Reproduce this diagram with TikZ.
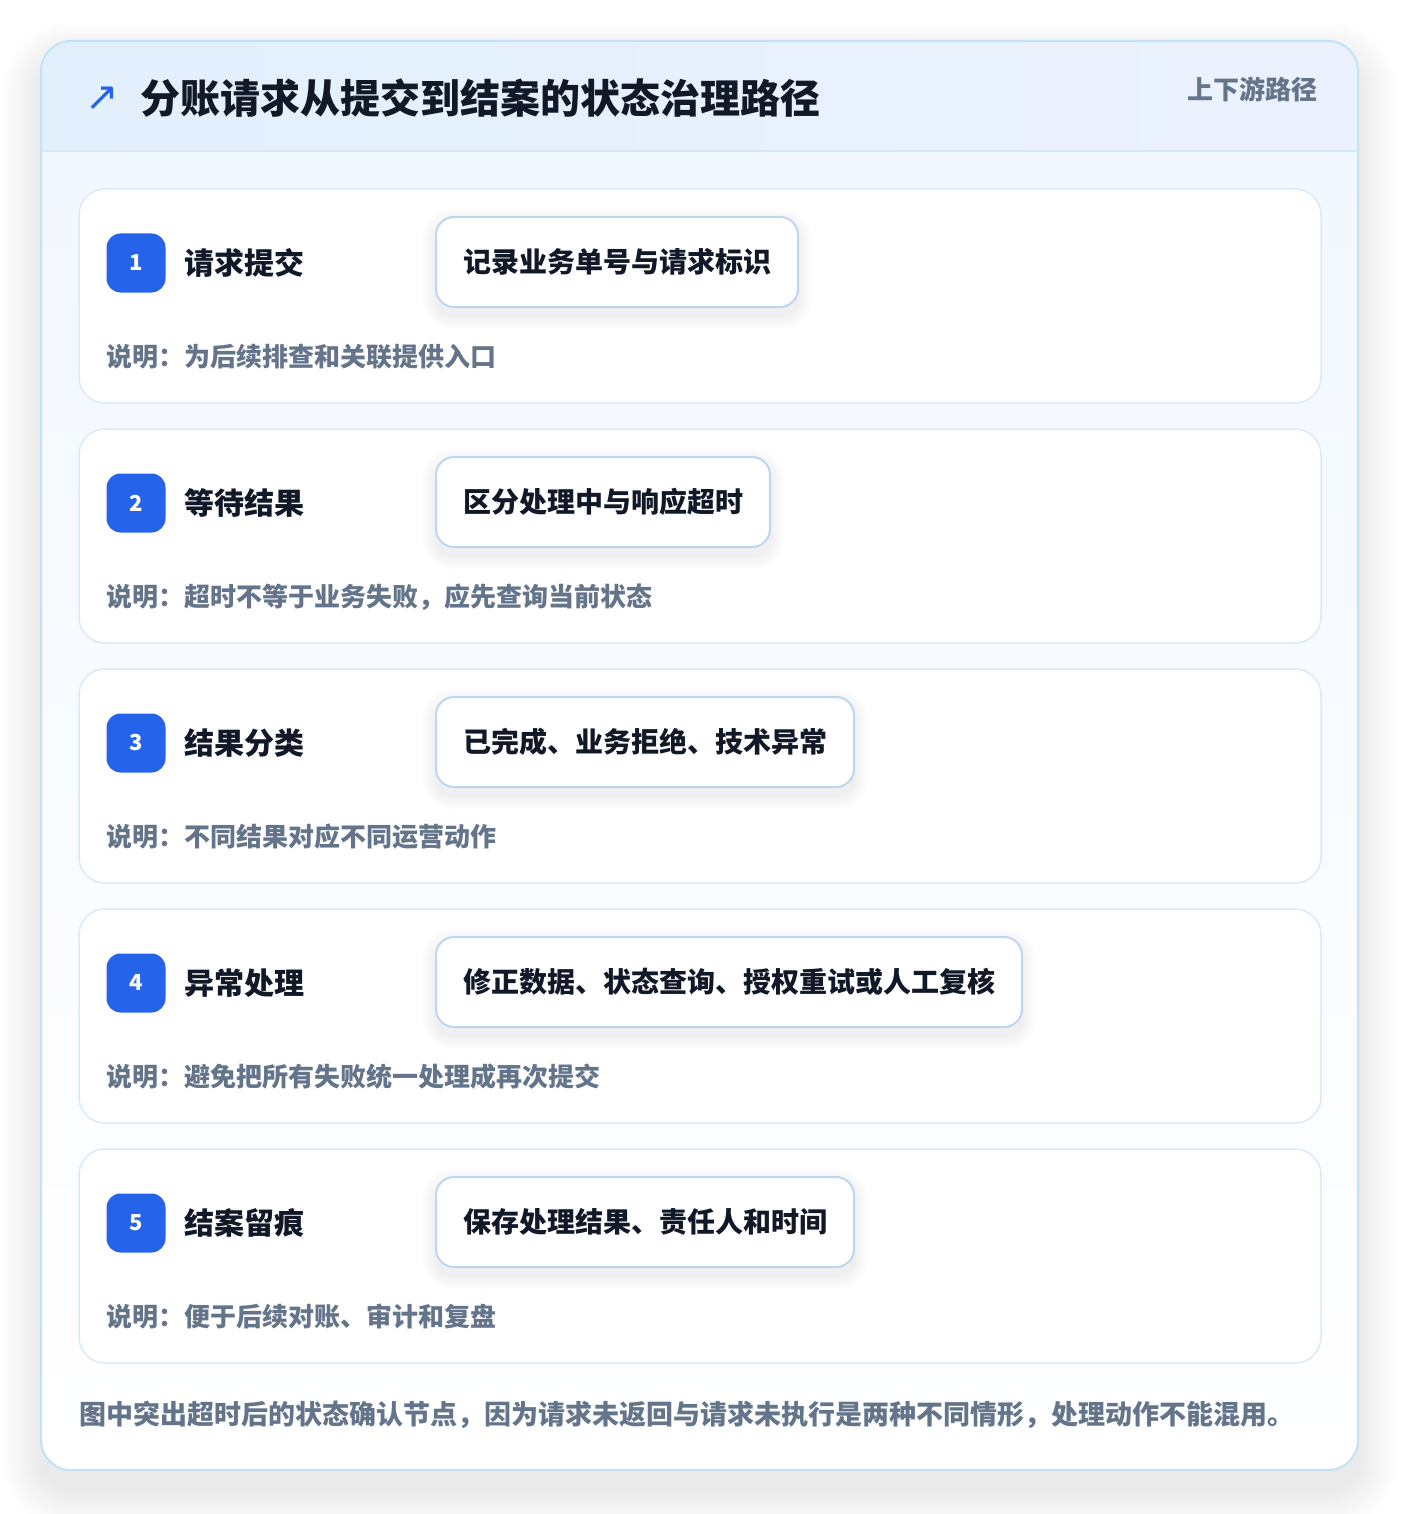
\documentclass[tikz,border=0pt]{standalone}
\usepackage{fontspec}
\setmainfont{Noto Sans CJK SC}
\newfontfamily\symfont{DejaVu Sans}
\usetikzlibrary{positioning}

\pgfdeclarelayer{cardlayer}
\pgfdeclarelayer{shadowlayer}
\pgfsetlayers{cardlayer,shadowlayer,main}

\definecolor{frameline}{HTML}{C3E2F6}
\definecolor{headleft}{HTML}{E2EFFD}
\definecolor{headright}{HTML}{ECF2FD}
\definecolor{headline}{HTML}{D5E6F8}
\definecolor{bodytop}{HTML}{F2F8FF}
\definecolor{cardline}{HTML}{DAEAF8}
\definecolor{boxline}{HTML}{BDD6F2}
\definecolor{badgeblue}{HTML}{2563EB}
\definecolor{ink}{HTML}{111827}
\definecolor{slate}{HTML}{64748B}

\tikzset{
  card/.style={draw=cardline, line width=1.5pt, fill=white, rounded corners=26pt, minimum width=1242pt, minimum height=214pt},
  badge/.style={fill=badgeblue, rounded corners=14pt, minimum size=59pt, inner sep=0pt, text=white, font=\fontsize{22}{22}\selectfont\bfseries},
  steptitle/.style={anchor=west, inner sep=0pt, text=ink, font=\fontsize{30}{36}\selectfont\bfseries},
  action/.style={anchor=west, draw=boxline, line width=2pt, fill=white, rounded corners=18pt, minimum height=90pt, inner xsep=27pt, text=ink, font=\fontsize{28}{34}\selectfont\bfseries},
  note/.style={anchor=west, inner sep=0pt, text=slate, font=\fontsize{26}{32}\selectfont\bfseries},
  haze/.style={fill=black, opacity=#1},
}

\begin{document}
\begin{tikzpicture}[x=1pt, y=-1pt]
  \useasboundingbox (0,0) rectangle (1400,1514);

  \begin{pgfonlayer}{cardlayer}
  \fill[white] (0,0) rectangle (1400,1514);

  % Frame
  \foreach \s in {0,2,...,40}
    \fill[haze=0.005, rounded corners=30+\s] (41-\s,61-\s) rectangle (1358+\s,1490+\s);
  \begin{scope}
    \clip[rounded corners=30pt] (41,41) rectangle (1358,1470);
    \shade[left color=headleft, right color=headright] (41,41) rectangle (1358,151);
    \shade[top color=bodytop, bottom color=white] (41,151) rectangle (1358,1470);
    \draw[headline, line width=1.5pt] (41,151) -- (1358,151);
  \end{scope}
  \draw[frameline, line width=2pt, rounded corners=30pt] (41,41) rectangle (1358,1470);

  % Cards
  \node[card] (card1) at (700,296) {};
  \node[card] (card2) at (700,536) {};
  \node[card] (card3) at (700,776) {};
  \node[card] (card4) at (700,1016) {};
  \node[card] (card5) at (700,1256) {};
  \end{pgfonlayer}

  % Header
  \node[text=badgeblue, font=\symfont\fontsize{40}{40}\selectfont, inner sep=0pt] (icon) at (102,99) {↗};
  \node[anchor=west, inner sep=0pt, text=ink, font=\fontsize{40}{48}\selectfont\bfseries] (title) at (140,98) {分账请求从提交到结案的状态治理路径};
  \node[anchor=east, inner sep=0pt, text=slate, font=\fontsize{26}{32}\selectfont\bfseries] (tag) at (1318,89) {上下游路径};

  % Steps
  \node[badge] (badge1) at (136,263) {1};
  \node[steptitle, right=19pt of badge1] (step1) {请求提交};
  \node[action] (action1) at (435,262) {记录业务单号与请求标识};
  \node[note] (note1) at (106,357) {说明：为后续排查和关联提供入口};

  \node[badge] (badge2) at (136,503) {2};
  \node[steptitle, right=19pt of badge2] (step2) {等待结果};
  \node[action] (action2) at (435,502) {区分处理中与响应超时};
  \node[note] (note2) at (106,597) {说明：超时不等于业务失败，应先查询当前状态};

  \node[badge] (badge3) at (136,743) {3};
  \node[steptitle, right=19pt of badge3] (step3) {结果分类};
  \node[action] (action3) at (435,742) {已完成、业务拒绝、技术异常};
  \node[note] (note3) at (106,837) {说明：不同结果对应不同运营动作};

  \node[badge] (badge4) at (136,983) {4};
  \node[steptitle, right=19pt of badge4] (step4) {异常处理};
  \node[action] (action4) at (435,982) {修正数据、状态查询、授权重试或人工复核};
  \node[note] (note4) at (106,1077) {说明：避免把所有失败统一处理成再次提交};

  \node[badge] (badge5) at (136,1223) {5};
  \node[steptitle, right=19pt of badge5] (step5) {结案留痕};
  \node[action] (action5) at (435,1222) {保存处理结果、责任人和时间};
  \node[note] (note5) at (106,1317) {说明：便于后续对账、审计和复盘};

  % Box shadows
  \begin{pgfonlayer}{shadowlayer}
  \foreach \b in {action1,action2,action3,action4,action5}
    \foreach \s in {0,1,...,14}
      \fill[haze=0.004, rounded corners=18+\s] ([shift={(-\s,6-\s)}]\b.north west) rectangle ([shift={(\s,8+\s)}]\b.south east);
  \end{pgfonlayer}

  % Footer
  \node[anchor=west, inner sep=0pt, text=slate, font=\fontsize{27}{33}\selectfont\bfseries] (footer) at (79,1415) {图中突出超时后的状态确认节点，因为请求未返回与请求未执行是两种不同情形，处理动作不能混用。};
\end{tikzpicture}
\end{document}
